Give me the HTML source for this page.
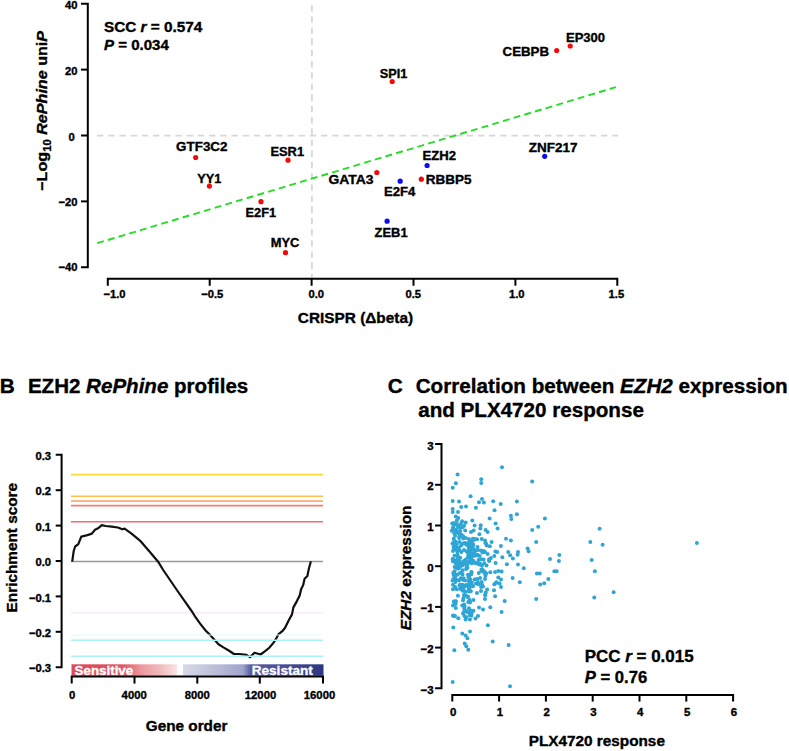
<!DOCTYPE html>
<html><head><meta charset="utf-8"><style>
html,body{margin:0;padding:0;background:#fff;}
svg{display:block;}
text{font-family:"Liberation Sans", sans-serif;}
text.k{stroke:#000;stroke-width:0.35px;}
text.w{stroke:#fff;stroke-width:0.3px;}
</style></head><body>
<svg width="789" height="751" viewBox="0 0 789 751">
<rect width="789" height="751" fill="#fff"/>
<line x1="97.00" y1="135.70" x2="618.00" y2="135.70" stroke="#d8d8d8" stroke-width="1.8" stroke-dasharray="6.5 4.7"/>
<line x1="311.90" y1="5.00" x2="311.90" y2="279.00" stroke="#d8d8d8" stroke-width="1.8" stroke-dasharray="6.5 4.7"/>
<line x1="97.20" y1="243.20" x2="615.80" y2="87.20" stroke="#26dc26" stroke-width="1.9" stroke-dasharray="6.9 4.25"/>
<path d="M81,3.74 H87.8 V267.26 H81" fill="none" stroke="#000" stroke-width="2"/>
<line x1="81.00" y1="69.62" x2="88.00" y2="69.62" stroke="#000" stroke-width="2" />
<line x1="81.00" y1="135.50" x2="88.00" y2="135.50" stroke="#000" stroke-width="2" />
<line x1="81.00" y1="201.38" x2="88.00" y2="201.38" stroke="#000" stroke-width="2" />
<path d="M107.80,285.7 V278.8 H617.30 V285.7" fill="none" stroke="#000" stroke-width="2"/>
<line x1="209.70" y1="278.80" x2="209.70" y2="285.70" stroke="#000" stroke-width="2" />
<line x1="311.60" y1="278.80" x2="311.60" y2="285.70" stroke="#000" stroke-width="2" />
<line x1="413.50" y1="278.80" x2="413.50" y2="285.70" stroke="#000" stroke-width="2" />
<line x1="515.40" y1="278.80" x2="515.40" y2="285.70" stroke="#000" stroke-width="2" />
<text transform="matrix(1.0200,0,0,1,65.02,9.20)" font-size="11" fill="#000" class="k" ><tspan font-weight="bold" font-style="normal">40</tspan></text>
<text transform="matrix(1.0200,0,0,1,65.02,75.20)" font-size="11" fill="#000" class="k" ><tspan font-weight="bold" font-style="normal">20</tspan></text>
<text transform="matrix(1.0200,0,0,1,68.56,140.90)" font-size="11" fill="#000" class="k" ><tspan font-weight="bold" font-style="normal">0</tspan></text>
<text transform="matrix(1.0200,0,0,1,58.47,206.40)" font-size="11" fill="#000" class="k" ><tspan font-weight="bold" font-style="normal">−20</tspan></text>
<text transform="matrix(1.0200,0,0,1,58.47,271.40)" font-size="11" fill="#000" class="k" ><tspan font-weight="bold" font-style="normal">−40</tspan></text>
<text transform="matrix(1.0200,0,0,1,103.43,297.90)" font-size="11" fill="#000" class="k" ><tspan font-weight="bold" font-style="normal">−1.0</tspan></text>
<text transform="matrix(1.0200,0,0,1,201.13,297.90)" font-size="11" fill="#000" class="k" ><tspan font-weight="bold" font-style="normal">−0.5</tspan></text>
<text transform="matrix(1.0200,0,0,1,308.40,297.90)" font-size="11" fill="#000" class="k" ><tspan font-weight="bold" font-style="normal">0.0</tspan></text>
<text transform="matrix(1.0200,0,0,1,405.50,297.90)" font-size="11" fill="#000" class="k" ><tspan font-weight="bold" font-style="normal">0.5</tspan></text>
<text transform="matrix(1.0200,0,0,1,509.00,297.90)" font-size="11" fill="#000" class="k" ><tspan font-weight="bold" font-style="normal">1.0</tspan></text>
<text transform="matrix(1.0200,0,0,1,608.60,297.90)" font-size="11" fill="#000" class="k" ><tspan font-weight="bold" font-style="normal">1.5</tspan></text>
<text transform="translate(46.90,190.80) rotate(-90) scale(1.0752,1)" font-size="15" fill="#000" class="k" ><tspan font-weight="bold" font-style="normal">−Log</tspan><tspan font-weight="bold" font-style="normal" font-size="10.50" dy="3.75">10</tspan><tspan font-weight="bold" font-style="normal" dy="-3.75"> </tspan><tspan font-weight="bold" font-style="italic">RePhine</tspan><tspan font-weight="bold" font-style="normal"> uni</tspan><tspan font-weight="bold" font-style="italic">P</tspan></text>
<text transform="matrix(1.0253,0,0,1,297.80,323.30)" font-size="15" fill="#000" class="k" ><tspan font-weight="bold" font-style="normal">CRISPR (Δbeta)</tspan></text>
<text transform="matrix(1.0570,0,0,1,104.00,31.90)" font-size="14.5" fill="#000" class="k" ><tspan font-weight="bold" font-style="normal">SCC </tspan><tspan font-weight="bold" font-style="italic">r</tspan><tspan font-weight="bold" font-style="normal"> = 0.574</tspan></text>
<text transform="matrix(1.0387,0,0,1,104.00,50.00)" font-size="14.5" fill="#000" class="k" ><tspan font-weight="bold" font-style="italic">P</tspan><tspan font-weight="bold" font-style="normal"> = 0.034</tspan></text>
<circle cx="195.7" cy="157.5" r="2.6" fill="#f20a0a"/>
<text transform="matrix(1.0725,0,0,1,176.10,151.30)" font-size="12.5" fill="#000" class="k" ><tspan font-weight="bold" font-style="normal">GTF3C2</tspan></text>
<circle cx="288" cy="160.2" r="2.6" fill="#f20a0a"/>
<text transform="matrix(1.0322,0,0,1,270.40,156.30)" font-size="12.5" fill="#000" class="k" ><tspan font-weight="bold" font-style="normal">ESR1</tspan></text>
<circle cx="209.4" cy="186.1" r="2.6" fill="#f20a0a"/>
<text transform="matrix(1.0201,0,0,1,197.20,182.70)" font-size="12.5" fill="#000" class="k" ><tspan font-weight="bold" font-style="normal">YY1</tspan></text>
<circle cx="261" cy="201.7" r="2.6" fill="#f20a0a"/>
<text transform="matrix(1.0176,0,0,1,245.60,217.40)" font-size="12.5" fill="#000" class="k" ><tspan font-weight="bold" font-style="normal">E2F1</tspan></text>
<circle cx="285.5" cy="252.7" r="2.6" fill="#f20a0a"/>
<text transform="matrix(1.0333,0,0,1,270.70,246.50)" font-size="12.5" fill="#000" class="k" ><tspan font-weight="bold" font-style="normal">MYC</tspan></text>
<circle cx="392.2" cy="81.5" r="2.6" fill="#f20a0a"/>
<text transform="matrix(1.0185,0,0,1,379.70,77.70)" font-size="12.5" fill="#000" class="k" ><tspan font-weight="bold" font-style="normal">SPI1</tspan></text>
<circle cx="570.2" cy="46" r="2.6" fill="#f20a0a"/>
<text transform="matrix(1.0420,0,0,1,566.00,41.90)" font-size="12.5" fill="#000" class="k" ><tspan font-weight="bold" font-style="normal">EP300</tspan></text>
<circle cx="556.7" cy="50.5" r="2.6" fill="#f20a0a"/>
<text transform="matrix(1.0626,0,0,1,502.60,56.20)" font-size="12.5" fill="#000" class="k" ><tspan font-weight="bold" font-style="normal">CEBPB</tspan></text>
<circle cx="376.8" cy="172.5" r="2.6" fill="#f20a0a"/>
<text transform="matrix(1.1108,0,0,1,328.40,184.00)" font-size="12.5" fill="#000" class="k" ><tspan font-weight="bold" font-style="normal">GATA3</tspan></text>
<circle cx="400.2" cy="181.2" r="2.6" fill="#0c0cf0"/>
<text transform="matrix(1.0477,0,0,1,384.10,195.70)" font-size="12.5" fill="#000" class="k" ><tspan font-weight="bold" font-style="normal">E2F4</tspan></text>
<circle cx="421.3" cy="179.2" r="2.6" fill="#f20a0a"/>
<text transform="matrix(1.0808,0,0,1,425.80,184.30)" font-size="12.5" fill="#000" class="k" ><tspan font-weight="bold" font-style="normal">RBBP5</tspan></text>
<circle cx="427.1" cy="165.5" r="2.6" fill="#0c0cf0"/>
<text transform="matrix(1.0516,0,0,1,422.50,159.50)" font-size="12.5" fill="#000" class="k" ><tspan font-weight="bold" font-style="normal">EZH2</tspan></text>
<circle cx="387.1" cy="221.2" r="2.6" fill="#0c0cf0"/>
<text transform="matrix(1.0329,0,0,1,374.60,237.20)" font-size="12.5" fill="#000" class="k" ><tspan font-weight="bold" font-style="normal">ZEB1</tspan></text>
<circle cx="544.7" cy="156.3" r="2.6" fill="#0c0cf0"/>
<text transform="matrix(1.0786,0,0,1,528.70,151.50)" font-size="12.5" fill="#000" class="k" ><tspan font-weight="bold" font-style="normal">ZNF217</tspan></text>
<text transform="matrix(1.0400,0,0,1,-0.26,392.60)" font-size="20" fill="#000" class="k" ><tspan font-weight="bold" font-style="normal">B</tspan></text>
<text transform="matrix(1.0280,0,0,1,27.90,392.60)" font-size="20" fill="#000" class="k" ><tspan font-weight="bold" font-style="normal">EZH2 </tspan><tspan font-weight="bold" font-style="italic">RePhine</tspan><tspan font-weight="bold" font-style="normal"> profiles</tspan></text>
<path d="M55.7,454.80 H61.6 V667.20 H55.7" fill="none" stroke="#000" stroke-width="2"/>
<line x1="55.70" y1="490.20" x2="62.00" y2="490.20" stroke="#000" stroke-width="2" />
<line x1="55.70" y1="525.60" x2="62.00" y2="525.60" stroke="#000" stroke-width="2" />
<line x1="55.70" y1="561.00" x2="62.00" y2="561.00" stroke="#000" stroke-width="2" />
<line x1="55.70" y1="596.40" x2="62.00" y2="596.40" stroke="#000" stroke-width="2" />
<line x1="55.70" y1="631.80" x2="62.00" y2="631.80" stroke="#000" stroke-width="2" />
<text transform="matrix(1.0200,0,0,1,35.50,459.90)" font-size="11" fill="#000" class="k" ><tspan font-weight="bold" font-style="normal">0.3</tspan></text>
<text transform="matrix(1.0200,0,0,1,35.50,495.30)" font-size="11" fill="#000" class="k" ><tspan font-weight="bold" font-style="normal">0.2</tspan></text>
<text transform="matrix(1.0200,0,0,1,35.50,530.70)" font-size="11" fill="#000" class="k" ><tspan font-weight="bold" font-style="normal">0.1</tspan></text>
<text transform="matrix(1.0200,0,0,1,35.50,566.10)" font-size="11" fill="#000" class="k" ><tspan font-weight="bold" font-style="normal">0.0</tspan></text>
<text transform="matrix(1.0200,0,0,1,28.95,601.50)" font-size="11" fill="#000" class="k" ><tspan font-weight="bold" font-style="normal">−0.1</tspan></text>
<text transform="matrix(1.0200,0,0,1,28.95,636.90)" font-size="11" fill="#000" class="k" ><tspan font-weight="bold" font-style="normal">−0.2</tspan></text>
<text transform="matrix(1.0200,0,0,1,28.95,672.30)" font-size="11" fill="#000" class="k" ><tspan font-weight="bold" font-style="normal">−0.3</tspan></text>
<line x1="71.00" y1="474.60" x2="323.00" y2="474.60" stroke="#fcd838" stroke-width="1.6" />
<line x1="71.00" y1="496.30" x2="323.00" y2="496.30" stroke="#fcc050" stroke-width="1.6" />
<line x1="71.00" y1="501.00" x2="323.00" y2="501.00" stroke="#f9a060" stroke-width="1.6" />
<line x1="71.00" y1="505.60" x2="323.00" y2="505.60" stroke="#fa7c70" stroke-width="1.6" />
<line x1="71.00" y1="521.80" x2="323.00" y2="521.80" stroke="#f66a78" stroke-width="1.6" />
<line x1="71.00" y1="561.50" x2="323.00" y2="561.50" stroke="#9a9a9a" stroke-width="1.4" />
<line x1="71.00" y1="612.90" x2="323.00" y2="612.90" stroke="#f8e4f6" stroke-width="1.4" />
<polyline fill="none" stroke="#111" stroke-width="2.2" stroke-linejoin="round" points="72.2,561.7 73.7,551 75.2,546.5 78.3,544.2 81.3,536.6 87.4,535.1 91.9,533.6 95,529.8 98,528.3 101.8,525.2 105.6,526 111.7,526.7 117.8,527.5 122.4,529.3 124.6,528.6 131.5,533.6 140.6,541.2 149.7,551.8 158.1,561.7 163.2,570 177.2,590.5 192.3,612 195,616.3 200.3,623.9 205.6,630.5 211,635.9 215.4,640.7 218.5,644.3 223.4,647.4 228.7,650.5 234,654 239.4,654 246.5,654.9 250,657.1 254.5,652.7 260.6,654.5 264.8,651.4 269,648 273.2,643.1 276,638.9 278.1,634.7 282.3,631.2 285.1,627.7 288.5,620.7 292,614.4 293.4,607.4 296.9,601.1 299.7,595.5 301.1,589.2 303.2,585 304.6,578.8 307.4,576 308.8,569 310.9,561.3"/>
<line x1="71.00" y1="635.00" x2="323.00" y2="635.00" stroke="#e8fbfb" stroke-width="1.2" />
<line x1="71.00" y1="640.20" x2="323.00" y2="640.20" stroke="#aaf2f5" stroke-width="1.5" />
<line x1="71.00" y1="656.20" x2="323.00" y2="656.20" stroke="#aaf2f5" stroke-width="1.5" />
<defs><linearGradient id="cb" x1="71.5" x2="323.5" y1="0" y2="0" gradientUnits="userSpaceOnUse">
<stop offset="0" stop-color="#dc4b5a"/><stop offset="0.198" stop-color="#dd5563"/>
<stop offset="0.28" stop-color="#eb9ba0"/><stop offset="0.355" stop-color="#f0bdbd"/>
<stop offset="0.415" stop-color="#f9e2e2"/><stop offset="0.425" stop-color="#ffffff"/><stop offset="0.441" stop-color="#ffffff"/>
<stop offset="0.442" stop-color="#d8dae8"/><stop offset="0.56" stop-color="#bec0da"/>
<stop offset="0.68" stop-color="#a0a4cc"/><stop offset="0.71" stop-color="#5a5fa2"/>
<stop offset="0.85" stop-color="#464b94"/><stop offset="1" stop-color="#2f3683"/></linearGradient></defs>
<rect x="71.5" y="664.3" width="252" height="11.4" fill="url(#cb)"/>
<text transform="matrix(1.1121,0,0,1,74.60,674.50)" font-size="12" fill="#fff" class="w" ><tspan font-weight="bold" font-style="normal">Sensitive</tspan></text>
<text transform="matrix(1.1328,0,0,1,251.70,674.50)" font-size="12" fill="#fff" class="w" ><tspan font-weight="bold" font-style="normal">Resistant</tspan></text>
<path d="M71.7,683.6 V676.6 H323 V683.6" fill="none" stroke="#000" stroke-width="2"/>
<line x1="134.50" y1="676.60" x2="134.50" y2="683.60" stroke="#000" stroke-width="2" />
<line x1="197.30" y1="676.60" x2="197.30" y2="683.60" stroke="#000" stroke-width="2" />
<line x1="259.80" y1="676.60" x2="259.80" y2="683.60" stroke="#000" stroke-width="2" />
<text transform="matrix(1.0300,0,0,1,69.10,699.20)" font-size="11" fill="#000" class="k" ><tspan font-weight="bold" font-style="normal">0</tspan></text>
<text transform="matrix(1.0300,0,0,1,121.60,699.20)" font-size="11" fill="#000" class="k" ><tspan font-weight="bold" font-style="normal">4000</tspan></text>
<text transform="matrix(1.0300,0,0,1,184.70,699.20)" font-size="11" fill="#000" class="k" ><tspan font-weight="bold" font-style="normal">8000</tspan></text>
<text transform="matrix(1.0300,0,0,1,244.75,699.20)" font-size="11" fill="#000" class="k" ><tspan font-weight="bold" font-style="normal">12000</tspan></text>
<text transform="matrix(1.0300,0,0,1,303.75,699.20)" font-size="11" fill="#000" class="k" ><tspan font-weight="bold" font-style="normal">16000</tspan></text>
<text transform="matrix(1.0925,0,0,1,145.80,731.30)" font-size="14" fill="#000" class="k" ><tspan font-weight="bold" font-style="normal">Gene order</tspan></text>
<text transform="translate(17.30,612.40) rotate(-90) scale(0.9891,1)" font-size="15.5" fill="#000" class="k" ><tspan font-weight="bold" font-style="normal">Enrichment score</tspan></text>
<text transform="matrix(1.0400,0,0,1,387.79,392.90)" font-size="20" fill="#000" class="k" ><tspan font-weight="bold" font-style="normal">C</tspan></text>
<text transform="matrix(1.0333,0,0,1,415.70,392.60)" font-size="20" fill="#000" class="k" ><tspan font-weight="bold" font-style="normal">Correlation between </tspan><tspan font-weight="bold" font-style="italic">EZH2</tspan><tspan font-weight="bold" font-style="normal"> expression</tspan></text>
<text transform="matrix(1.0316,0,0,1,418.20,417.40)" font-size="20" fill="#000" class="k" ><tspan font-weight="bold" font-style="normal">and PLX4720 response</tspan></text>
<path d="M435.1,444.10 H441.5 V688.30 H435.1" fill="none" stroke="#000" stroke-width="2"/>
<line x1="435.10" y1="484.80" x2="442.00" y2="484.80" stroke="#000" stroke-width="2" />
<line x1="435.10" y1="525.50" x2="442.00" y2="525.50" stroke="#000" stroke-width="2" />
<line x1="435.10" y1="566.20" x2="442.00" y2="566.20" stroke="#000" stroke-width="2" />
<line x1="435.10" y1="606.90" x2="442.00" y2="606.90" stroke="#000" stroke-width="2" />
<line x1="435.10" y1="647.60" x2="442.00" y2="647.60" stroke="#000" stroke-width="2" />
<text transform="matrix(1.0400,0,0,1,427.14,449.50)" font-size="11" fill="#000" class="k" ><tspan font-weight="bold" font-style="normal">3</tspan></text>
<text transform="matrix(1.0400,0,0,1,427.14,490.20)" font-size="11" fill="#000" class="k" ><tspan font-weight="bold" font-style="normal">2</tspan></text>
<text transform="matrix(1.0400,0,0,1,427.14,530.90)" font-size="11" fill="#000" class="k" ><tspan font-weight="bold" font-style="normal">1</tspan></text>
<text transform="matrix(1.0400,0,0,1,427.14,571.60)" font-size="11" fill="#000" class="k" ><tspan font-weight="bold" font-style="normal">0</tspan></text>
<text transform="matrix(1.0400,0,0,1,420.46,612.30)" font-size="11" fill="#000" class="k" ><tspan font-weight="bold" font-style="normal">−1</tspan></text>
<text transform="matrix(1.0400,0,0,1,420.46,653.00)" font-size="11" fill="#000" class="k" ><tspan font-weight="bold" font-style="normal">−2</tspan></text>
<text transform="matrix(1.0400,0,0,1,420.46,693.70)" font-size="11" fill="#000" class="k" ><tspan font-weight="bold" font-style="normal">−3</tspan></text>
<path d="M452.30,701.6 V695 H733.10 V701.6" fill="none" stroke="#000" stroke-width="2"/>
<line x1="499.10" y1="695.00" x2="499.10" y2="701.60" stroke="#000" stroke-width="2" />
<line x1="545.90" y1="695.00" x2="545.90" y2="701.60" stroke="#000" stroke-width="2" />
<line x1="592.70" y1="695.00" x2="592.70" y2="701.60" stroke="#000" stroke-width="2" />
<line x1="639.50" y1="695.00" x2="639.50" y2="701.60" stroke="#000" stroke-width="2" />
<line x1="686.30" y1="695.00" x2="686.30" y2="701.60" stroke="#000" stroke-width="2" />
<text transform="matrix(1.0400,0,0,1,449.92,716.00)" font-size="11" fill="#000" class="k" ><tspan font-weight="bold" font-style="normal">0</tspan></text>
<text transform="matrix(1.0400,0,0,1,496.72,716.00)" font-size="11" fill="#000" class="k" ><tspan font-weight="bold" font-style="normal">1</tspan></text>
<text transform="matrix(1.0400,0,0,1,543.52,716.00)" font-size="11" fill="#000" class="k" ><tspan font-weight="bold" font-style="normal">2</tspan></text>
<text transform="matrix(1.0400,0,0,1,590.32,716.00)" font-size="11" fill="#000" class="k" ><tspan font-weight="bold" font-style="normal">3</tspan></text>
<text transform="matrix(1.0400,0,0,1,637.12,716.00)" font-size="11" fill="#000" class="k" ><tspan font-weight="bold" font-style="normal">4</tspan></text>
<text transform="matrix(1.0400,0,0,1,683.92,716.00)" font-size="11" fill="#000" class="k" ><tspan font-weight="bold" font-style="normal">5</tspan></text>
<text transform="matrix(1.0400,0,0,1,730.72,716.00)" font-size="11" fill="#000" class="k" ><tspan font-weight="bold" font-style="normal">6</tspan></text>
<text transform="matrix(1.0946,0,0,1,528.80,746.30)" font-size="14" fill="#000" class="k" ><tspan font-weight="bold" font-style="normal">PLX4720 response</tspan></text>
<text transform="translate(410.60,630.30) rotate(-90) scale(0.9923,1)" font-size="15.5" fill="#000" class="k" ><tspan font-weight="bold" font-style="italic">EZH2</tspan><tspan font-weight="bold" font-style="normal"> expression</tspan></text>
<text transform="matrix(1.0611,0,0,1,584.70,662.00)" font-size="16" fill="#000" class="k" ><tspan font-weight="bold" font-style="normal">PCC </tspan><tspan font-weight="bold" font-style="italic">r</tspan><tspan font-weight="bold" font-style="normal"> = 0.015</tspan></text>
<text transform="matrix(1.0408,0,0,1,584.70,682.80)" font-size="16" fill="#000" class="k" ><tspan font-weight="bold" font-style="italic">P</tspan><tspan font-weight="bold" font-style="normal"> = 0.76</tspan></text>
<g fill="#2fa5d5"><circle cx="502.0" cy="467.3" r="2"/><circle cx="457.6" cy="474.4" r="2"/><circle cx="481.2" cy="479.3" r="2"/><circle cx="481.2" cy="482.9" r="2"/><circle cx="532.2" cy="481.6" r="2"/><circle cx="455.9" cy="483.3" r="2"/><circle cx="452.7" cy="487.7" r="2"/><circle cx="470.6" cy="496.2" r="2"/><circle cx="482.0" cy="498.9" r="2"/><circle cx="452.7" cy="501.0" r="2"/><circle cx="459.0" cy="501.5" r="2"/><circle cx="479.0" cy="502.3" r="2"/><circle cx="483.9" cy="502.6" r="2"/><circle cx="493.2" cy="501.3" r="2"/><circle cx="516.9" cy="501.5" r="2"/><circle cx="500.7" cy="503.9" r="2"/><circle cx="461.2" cy="506.9" r="2"/><circle cx="466.0" cy="506.6" r="2"/><circle cx="475.9" cy="507.7" r="2"/><circle cx="494.5" cy="510.3" r="2"/><circle cx="452.7" cy="509.0" r="2"/><circle cx="452.7" cy="511.9" r="2"/><circle cx="458.0" cy="511.9" r="2"/><circle cx="516.9" cy="514.3" r="2"/><circle cx="510.9" cy="515.7" r="2"/><circle cx="511.3" cy="518.9" r="2"/><circle cx="489.6" cy="518.6" r="2"/><circle cx="472.3" cy="520.6" r="2"/><circle cx="455.7" cy="516.6" r="2"/><circle cx="458.3" cy="517.9" r="2"/><circle cx="544.9" cy="518.6" r="2"/><circle cx="495.6" cy="523.6" r="2"/><circle cx="497.6" cy="528.6" r="2"/><circle cx="480.7" cy="525.2" r="2"/><circle cx="480.3" cy="528.6" r="2"/><circle cx="474.6" cy="525.5" r="2"/><circle cx="471.0" cy="531.9" r="2"/><circle cx="473.6" cy="530.6" r="2"/><circle cx="485.6" cy="529.9" r="2"/><circle cx="487.6" cy="531.9" r="2"/><circle cx="479.4" cy="534.3" r="2"/><circle cx="538.2" cy="526.8" r="2"/><circle cx="532.2" cy="529.9" r="2"/><circle cx="506.0" cy="538.8" r="2"/><circle cx="510.9" cy="540.6" r="2"/><circle cx="536.2" cy="541.9" r="2"/><circle cx="477.0" cy="539.2" r="2"/><circle cx="485.0" cy="540.6" r="2"/><circle cx="485.6" cy="543.2" r="2"/><circle cx="491.6" cy="541.9" r="2"/><circle cx="500.9" cy="545.9" r="2"/><circle cx="527.6" cy="548.5" r="2"/><circle cx="528.6" cy="551.2" r="2"/><circle cx="508.2" cy="551.9" r="2"/><circle cx="518.0" cy="551.9" r="2"/><circle cx="517.6" cy="554.8" r="2"/><circle cx="510.2" cy="555.2" r="2"/><circle cx="512.9" cy="558.5" r="2"/><circle cx="502.3" cy="557.2" r="2"/><circle cx="494.3" cy="555.9" r="2"/><circle cx="490.9" cy="557.9" r="2"/><circle cx="481.0" cy="550.5" r="2"/><circle cx="485.0" cy="551.9" r="2"/><circle cx="487.6" cy="553.9" r="2"/><circle cx="475.6" cy="550.5" r="2"/><circle cx="469.6" cy="542.6" r="2"/><circle cx="471.0" cy="546.6" r="2"/><circle cx="473.6" cy="539.9" r="2"/><circle cx="479.6" cy="555.9" r="2"/><circle cx="506.9" cy="564.3" r="2"/><circle cx="518.0" cy="564.6" r="2"/><circle cx="523.8" cy="568.3" r="2"/><circle cx="536.9" cy="573.4" r="2"/><circle cx="539.8" cy="573.6" r="2"/><circle cx="512.6" cy="577.9" r="2"/><circle cx="519.8" cy="582.3" r="2"/><circle cx="540.2" cy="584.6" r="2"/><circle cx="544.2" cy="583.2" r="2"/><circle cx="536.2" cy="598.9" r="2"/><circle cx="504.7" cy="600.9" r="2"/><circle cx="501.6" cy="612.0" r="2"/><circle cx="490.3" cy="607.2" r="2"/><circle cx="487.9" cy="625.3" r="2"/><circle cx="453.3" cy="627.6" r="2"/><circle cx="470.0" cy="631.6" r="2"/><circle cx="462.3" cy="633.6" r="2"/><circle cx="465.6" cy="635.6" r="2"/><circle cx="467.4" cy="638.2" r="2"/><circle cx="492.7" cy="641.5" r="2"/><circle cx="508.6" cy="644.9" r="2"/><circle cx="464.7" cy="643.5" r="2"/><circle cx="466.3" cy="646.2" r="2"/><circle cx="468.3" cy="649.8" r="2"/><circle cx="454.3" cy="650.2" r="2"/><circle cx="478.0" cy="616.0" r="2"/><circle cx="479.0" cy="607.6" r="2"/><circle cx="483.0" cy="609.6" r="2"/><circle cx="453.0" cy="615.6" r="2"/><circle cx="458.3" cy="618.2" r="2"/><circle cx="465.6" cy="619.6" r="2"/><circle cx="471.6" cy="612.9" r="2"/><circle cx="463.0" cy="613.6" r="2"/><circle cx="469.0" cy="608.3" r="2"/><circle cx="462.3" cy="605.6" r="2"/><circle cx="454.3" cy="601.6" r="2"/><circle cx="453.0" cy="605.6" r="2"/><circle cx="469.0" cy="601.6" r="2"/><circle cx="463.0" cy="600.3" r="2"/><circle cx="477.0" cy="593.0" r="2"/><circle cx="481.0" cy="591.0" r="2"/><circle cx="485.0" cy="595.0" r="2"/><circle cx="485.0" cy="599.0" r="2"/><circle cx="494.0" cy="590.3" r="2"/><circle cx="494.3" cy="584.3" r="2"/><circle cx="499.6" cy="583.6" r="2"/><circle cx="501.0" cy="587.0" r="2"/><circle cx="498.3" cy="577.6" r="2"/><circle cx="501.0" cy="579.6" r="2"/><circle cx="501.6" cy="571.6" r="2"/><circle cx="495.6" cy="563.0" r="2"/><circle cx="498.3" cy="571.0" r="2"/><circle cx="490.3" cy="572.3" r="2"/><circle cx="486.3" cy="573.6" r="2"/><circle cx="485.0" cy="579.0" r="2"/><circle cx="477.0" cy="579.0" r="2"/><circle cx="478.3" cy="583.0" r="2"/><circle cx="489.0" cy="560.3" r="2"/><circle cx="590.3" cy="542.0" r="2"/><circle cx="602.6" cy="544.7" r="2"/><circle cx="559.3" cy="554.9" r="2"/><circle cx="550.0" cy="558.9" r="2"/><circle cx="558.9" cy="561.0" r="2"/><circle cx="591.7" cy="560.0" r="2"/><circle cx="554.4" cy="571.3" r="2"/><circle cx="556.6" cy="571.3" r="2"/><circle cx="594.9" cy="571.3" r="2"/><circle cx="548.3" cy="578.9" r="2"/><circle cx="613.6" cy="592.2" r="2"/><circle cx="594.3" cy="597.5" r="2"/><circle cx="599.6" cy="528.7" r="2"/><circle cx="696.9" cy="542.9" r="2"/><circle cx="452.7" cy="681.9" r="2"/><circle cx="510.0" cy="686.3" r="2"/><circle cx="456.8" cy="520.5" r="2"/><circle cx="462.1" cy="521.2" r="2"/><circle cx="452.2" cy="523.5" r="2"/><circle cx="460.2" cy="525.0" r="2"/><circle cx="457.9" cy="526.9" r="2"/><circle cx="462.5" cy="527.3" r="2"/><circle cx="451.8" cy="530.7" r="2"/><circle cx="456.4" cy="530.0" r="2"/><circle cx="460.2" cy="530.7" r="2"/><circle cx="465.2" cy="530.4" r="2"/><circle cx="454.1" cy="533.0" r="2"/><circle cx="458.7" cy="533.0" r="2"/><circle cx="456.9" cy="524.0" r="2"/><circle cx="461.3" cy="522.9" r="2"/><circle cx="459.7" cy="526.8" r="2"/><circle cx="453.3" cy="528.6" r="2"/><circle cx="453.0" cy="527.6" r="2"/><circle cx="453.4" cy="523.2" r="2"/><circle cx="458.2" cy="532.7" r="2"/><circle cx="454.2" cy="524.9" r="2"/><circle cx="461.0" cy="534.3" r="2"/><circle cx="460.3" cy="527.2" r="2"/><circle cx="465.7" cy="522.6" r="2"/><circle cx="464.1" cy="525.8" r="2"/><circle cx="454.4" cy="523.5" r="2"/><circle cx="456.7" cy="532.6" r="2"/><circle cx="454.9" cy="529.6" r="2"/><circle cx="461.1" cy="526.8" r="2"/><circle cx="463.2" cy="538.6" r="2"/><circle cx="453.7" cy="546.7" r="2"/><circle cx="465.8" cy="559.4" r="2"/><circle cx="458.6" cy="568.4" r="2"/><circle cx="461.3" cy="552.1" r="2"/><circle cx="468.0" cy="574.8" r="2"/><circle cx="457.3" cy="567.7" r="2"/><circle cx="462.7" cy="584.9" r="2"/><circle cx="466.7" cy="551.4" r="2"/><circle cx="471.6" cy="541.7" r="2"/><circle cx="460.7" cy="578.2" r="2"/><circle cx="455.5" cy="562.9" r="2"/><circle cx="453.3" cy="573.1" r="2"/><circle cx="467.4" cy="567.7" r="2"/><circle cx="469.6" cy="552.9" r="2"/><circle cx="466.1" cy="568.9" r="2"/><circle cx="463.8" cy="561.0" r="2"/><circle cx="468.9" cy="588.8" r="2"/><circle cx="461.7" cy="572.9" r="2"/><circle cx="453.7" cy="575.0" r="2"/><circle cx="465.1" cy="591.6" r="2"/><circle cx="468.5" cy="551.2" r="2"/><circle cx="460.0" cy="573.1" r="2"/><circle cx="452.9" cy="561.3" r="2"/><circle cx="455.8" cy="541.7" r="2"/><circle cx="453.6" cy="578.8" r="2"/><circle cx="455.0" cy="549.1" r="2"/><circle cx="460.1" cy="584.7" r="2"/><circle cx="454.1" cy="560.6" r="2"/><circle cx="463.2" cy="585.4" r="2"/><circle cx="468.5" cy="584.2" r="2"/><circle cx="457.9" cy="558.7" r="2"/><circle cx="459.5" cy="585.4" r="2"/><circle cx="471.2" cy="543.6" r="2"/><circle cx="455.9" cy="548.2" r="2"/><circle cx="457.1" cy="562.6" r="2"/><circle cx="464.0" cy="550.0" r="2"/><circle cx="452.6" cy="558.9" r="2"/><circle cx="459.7" cy="567.3" r="2"/><circle cx="471.1" cy="574.4" r="2"/><circle cx="462.6" cy="570.2" r="2"/><circle cx="465.7" cy="538.1" r="2"/><circle cx="470.0" cy="579.5" r="2"/><circle cx="469.6" cy="580.5" r="2"/><circle cx="460.2" cy="557.7" r="2"/><circle cx="454.5" cy="571.2" r="2"/><circle cx="453.7" cy="538.8" r="2"/><circle cx="456.6" cy="544.3" r="2"/><circle cx="459.1" cy="538.0" r="2"/><circle cx="452.5" cy="543.6" r="2"/><circle cx="454.5" cy="555.7" r="2"/><circle cx="453.0" cy="584.8" r="2"/><circle cx="464.5" cy="543.5" r="2"/><circle cx="457.4" cy="554.8" r="2"/><circle cx="459.6" cy="542.0" r="2"/><circle cx="469.1" cy="591.6" r="2"/><circle cx="461.6" cy="562.6" r="2"/><circle cx="454.2" cy="540.8" r="2"/><circle cx="459.2" cy="550.1" r="2"/><circle cx="468.7" cy="544.2" r="2"/><circle cx="453.0" cy="589.2" r="2"/><circle cx="462.8" cy="543.4" r="2"/><circle cx="463.1" cy="536.5" r="2"/><circle cx="462.8" cy="590.8" r="2"/><circle cx="469.3" cy="574.7" r="2"/><circle cx="457.6" cy="555.9" r="2"/><circle cx="455.8" cy="579.0" r="2"/><circle cx="462.9" cy="579.4" r="2"/><circle cx="458.9" cy="547.7" r="2"/><circle cx="468.3" cy="591.1" r="2"/><circle cx="469.1" cy="580.9" r="2"/><circle cx="468.5" cy="577.2" r="2"/><circle cx="456.9" cy="564.5" r="2"/><circle cx="459.4" cy="536.7" r="2"/><circle cx="453.0" cy="550.9" r="2"/><circle cx="457.6" cy="574.5" r="2"/><circle cx="471.2" cy="560.5" r="2"/><circle cx="470.8" cy="591.3" r="2"/><circle cx="471.1" cy="555.8" r="2"/><circle cx="456.8" cy="547.9" r="2"/><circle cx="456.3" cy="546.6" r="2"/><circle cx="464.7" cy="586.3" r="2"/><circle cx="468.9" cy="562.3" r="2"/><circle cx="465.2" cy="580.6" r="2"/><circle cx="454.2" cy="572.7" r="2"/><circle cx="470.2" cy="579.6" r="2"/><circle cx="467.1" cy="562.2" r="2"/><circle cx="456.0" cy="580.0" r="2"/><circle cx="459.0" cy="580.6" r="2"/><circle cx="471.4" cy="557.6" r="2"/><circle cx="460.3" cy="589.0" r="2"/><circle cx="466.6" cy="544.7" r="2"/><circle cx="455.0" cy="543.6" r="2"/><circle cx="470.1" cy="581.0" r="2"/><circle cx="455.4" cy="582.1" r="2"/><circle cx="471.6" cy="572.5" r="2"/><circle cx="459.3" cy="566.3" r="2"/><circle cx="455.1" cy="535.8" r="2"/><circle cx="471.4" cy="572.0" r="2"/><circle cx="462.8" cy="588.2" r="2"/><circle cx="461.0" cy="584.7" r="2"/><circle cx="468.6" cy="547.0" r="2"/><circle cx="457.4" cy="551.7" r="2"/><circle cx="457.2" cy="568.4" r="2"/><circle cx="457.6" cy="558.9" r="2"/><circle cx="455.1" cy="586.9" r="2"/><circle cx="459.4" cy="561.1" r="2"/><circle cx="463.9" cy="586.5" r="2"/><circle cx="460.7" cy="587.3" r="2"/><circle cx="462.3" cy="565.3" r="2"/><circle cx="462.7" cy="536.1" r="2"/><circle cx="461.1" cy="545.4" r="2"/><circle cx="452.6" cy="580.6" r="2"/><circle cx="455.9" cy="562.0" r="2"/><circle cx="466.6" cy="566.7" r="2"/><circle cx="458.9" cy="564.5" r="2"/><circle cx="463.3" cy="579.7" r="2"/><circle cx="454.6" cy="566.9" r="2"/><circle cx="457.3" cy="550.8" r="2"/><circle cx="467.6" cy="563.9" r="2"/><circle cx="463.5" cy="578.3" r="2"/><circle cx="470.3" cy="560.3" r="2"/><circle cx="464.4" cy="563.8" r="2"/><circle cx="462.5" cy="574.5" r="2"/><circle cx="461.3" cy="565.4" r="2"/><circle cx="461.8" cy="588.7" r="2"/><circle cx="466.1" cy="585.0" r="2"/><circle cx="470.9" cy="549.8" r="2"/><circle cx="463.4" cy="588.8" r="2"/><circle cx="468.9" cy="542.8" r="2"/><circle cx="454.9" cy="560.2" r="2"/><circle cx="453.9" cy="548.7" r="2"/><circle cx="453.9" cy="573.2" r="2"/><circle cx="467.8" cy="586.1" r="2"/><circle cx="455.5" cy="575.8" r="2"/><circle cx="465.4" cy="543.1" r="2"/><circle cx="469.7" cy="590.2" r="2"/><circle cx="456.8" cy="589.3" r="2"/><circle cx="460.3" cy="562.8" r="2"/><circle cx="471.8" cy="582.4" r="2"/><circle cx="471.1" cy="559.6" r="2"/><circle cx="477.8" cy="555.0" r="2"/><circle cx="471.7" cy="553.9" r="2"/><circle cx="481.7" cy="539.0" r="2"/><circle cx="478.5" cy="560.0" r="2"/><circle cx="468.3" cy="554.6" r="2"/><circle cx="479.9" cy="563.6" r="2"/><circle cx="469.2" cy="587.3" r="2"/><circle cx="483.0" cy="586.6" r="2"/><circle cx="470.0" cy="551.3" r="2"/><circle cx="468.8" cy="576.9" r="2"/><circle cx="473.1" cy="544.5" r="2"/><circle cx="476.0" cy="583.6" r="2"/><circle cx="483.6" cy="550.9" r="2"/><circle cx="470.8" cy="584.0" r="2"/><circle cx="478.8" cy="573.0" r="2"/><circle cx="469.7" cy="540.9" r="2"/><circle cx="481.1" cy="559.3" r="2"/><circle cx="469.4" cy="584.9" r="2"/><circle cx="480.1" cy="578.1" r="2"/><circle cx="469.6" cy="580.8" r="2"/><circle cx="469.3" cy="581.1" r="2"/><circle cx="476.6" cy="555.0" r="2"/><circle cx="478.5" cy="584.3" r="2"/><circle cx="473.1" cy="544.5" r="2"/><circle cx="478.0" cy="549.9" r="2"/><circle cx="470.1" cy="546.1" r="2"/><circle cx="469.0" cy="548.1" r="2"/><circle cx="473.9" cy="553.3" r="2"/><circle cx="482.4" cy="552.5" r="2"/><circle cx="477.5" cy="546.9" r="2"/><circle cx="474.6" cy="538.9" r="2"/><circle cx="472.8" cy="538.8" r="2"/><circle cx="481.9" cy="565.6" r="2"/><circle cx="471.6" cy="561.7" r="2"/><circle cx="485.8" cy="543.3" r="2"/><circle cx="483.6" cy="559.6" r="2"/><circle cx="477.4" cy="579.7" r="2"/><circle cx="475.5" cy="563.3" r="2"/><circle cx="481.1" cy="587.1" r="2"/><circle cx="474.5" cy="579.6" r="2"/><circle cx="481.4" cy="569.8" r="2"/><circle cx="475.7" cy="555.4" r="2"/><circle cx="469.0" cy="544.5" r="2"/><circle cx="469.3" cy="575.0" r="2"/><circle cx="472.9" cy="546.2" r="2"/><circle cx="469.6" cy="580.1" r="2"/><circle cx="484.5" cy="571.5" r="2"/><circle cx="473.4" cy="550.1" r="2"/><circle cx="473.6" cy="561.0" r="2"/><circle cx="471.0" cy="560.3" r="2"/><circle cx="473.0" cy="586.1" r="2"/><circle cx="486.5" cy="565.4" r="2"/><circle cx="472.6" cy="586.3" r="2"/><circle cx="473.9" cy="555.8" r="2"/><circle cx="468.0" cy="557.1" r="2"/><circle cx="477.0" cy="563.1" r="2"/><circle cx="471.8" cy="563.2" r="2"/><circle cx="468.1" cy="551.2" r="2"/><circle cx="469.7" cy="558.0" r="2"/><circle cx="468.8" cy="539.1" r="2"/><circle cx="473.8" cy="549.6" r="2"/><circle cx="479.1" cy="564.5" r="2"/><circle cx="482.3" cy="570.9" r="2"/><circle cx="481.6" cy="582.0" r="2"/><circle cx="475.4" cy="554.3" r="2"/><circle cx="486.7" cy="545.5" r="2"/><circle cx="481.8" cy="570.2" r="2"/><circle cx="453.5" cy="615.9" r="2"/><circle cx="473.5" cy="610.7" r="2"/><circle cx="469.7" cy="615.3" r="2"/><circle cx="455.8" cy="608.1" r="2"/><circle cx="464.4" cy="615.9" r="2"/><circle cx="471.4" cy="615.7" r="2"/><circle cx="466.2" cy="617.3" r="2"/><circle cx="468.5" cy="612.3" r="2"/><circle cx="457.9" cy="595.8" r="2"/><circle cx="455.6" cy="604.0" r="2"/><circle cx="455.0" cy="615.9" r="2"/><circle cx="465.6" cy="610.7" r="2"/><circle cx="467.2" cy="612.0" r="2"/><circle cx="464.0" cy="595.1" r="2"/><circle cx="471.2" cy="613.7" r="2"/><circle cx="464.3" cy="608.4" r="2"/><circle cx="468.0" cy="596.7" r="2"/><circle cx="469.8" cy="601.3" r="2"/><circle cx="454.2" cy="601.6" r="2"/><circle cx="469.6" cy="600.1" r="2"/><circle cx="469.9" cy="619.4" r="2"/><circle cx="464.1" cy="604.6" r="2"/><circle cx="463.8" cy="612.1" r="2"/><circle cx="470.5" cy="610.4" r="2"/><circle cx="467.6" cy="596.9" r="2"/><circle cx="456.0" cy="601.3" r="2"/><circle cx="470.0" cy="602.6" r="2"/><circle cx="465.8" cy="595.3" r="2"/><circle cx="453.9" cy="601.7" r="2"/><circle cx="468.3" cy="612.3" r="2"/><circle cx="468.4" cy="602.3" r="2"/><circle cx="464.6" cy="606.6" r="2"/><circle cx="463.5" cy="598.0" r="2"/><circle cx="473.5" cy="600.0" r="2"/><circle cx="475.5" cy="618.4" r="2"/><circle cx="482.3" cy="569.3" r="2"/><circle cx="495.1" cy="596.3" r="2"/><circle cx="489.2" cy="559.2" r="2"/><circle cx="485.4" cy="595.1" r="2"/><circle cx="485.4" cy="575.8" r="2"/><circle cx="484.3" cy="572.8" r="2"/><circle cx="497.2" cy="552.0" r="2"/><circle cx="495.1" cy="572.0" r="2"/><circle cx="496.2" cy="582.3" r="2"/><circle cx="485.7" cy="592.6" r="2"/><circle cx="489.8" cy="546.3" r="2"/><circle cx="482.1" cy="571.1" r="2"/><circle cx="489.2" cy="561.0" r="2"/><circle cx="484.3" cy="563.2" r="2"/><circle cx="487.1" cy="589.5" r="2"/><circle cx="482.0" cy="584.8" r="2"/><circle cx="495.4" cy="551.4" r="2"/><circle cx="496.8" cy="582.8" r="2"/></g>
</svg></body></html>
